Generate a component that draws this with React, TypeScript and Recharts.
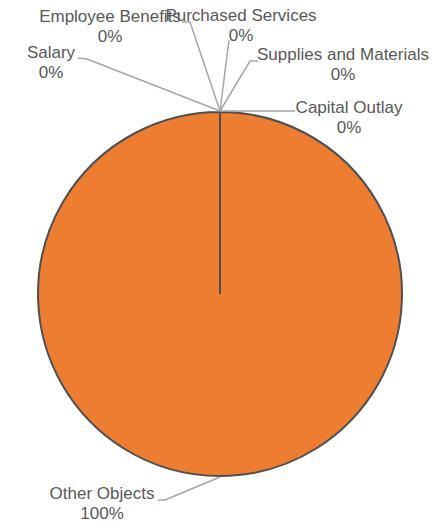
import { Cell, Pie, PieChart } from "recharts";

const categories = [
  "Salary",
  "Employee Benefits",
  "Purchased Services",
  "Supplies and Materials",
  "Capital Outlay",
  "Other Objects",
];
const amounts = [0, 0, 0, 0, 0, 100];

const data = categories.map((name, i) => ({ name, value: amounts[i] }));
const total = amounts.reduce((s, v) => s + v, 0);

// label text centre, leader start and elbow, all relative to the pie centre
const LABEL_LAYOUT = [
  { tx: -169, ty: -242, sx: -142, sy: -236, ex: -133, ey: -235 },
  { tx: -110, ty: -278, sx: -38, sy: -272, ex: -30, ey: -272 },
  { tx: 21, ty: -279, sx: 9, sy: -254, ex: 9, ey: -254 },
  { tx: 123, ty: -240, sx: 38, sy: -233, ex: 30, ey: -233 },
  { tx: 129, ty: -187.5, sx: 75, sy: -183, ex: 70, ey: -183 },
  { tx: -118, ty: 199, sx: -62, sy: 206, ex: -55, ey: 206 },
];

const RAD = Math.PI / 180;

function SliceLabel(props: any) {
  const { cx, cy, midAngle, outerRadius, index, name, value } = props;
  const l = LABEL_LAYOUT[index];
  if (!l) return null;
  const px = cx + (outerRadius + 1) * Math.cos(-midAngle * RAD);
  const py = cy + (outerRadius + 1) * Math.sin(-midAngle * RAD);
  const pct = total ? Math.round((value / total) * 100) : 0;
  return (
    <g>
      <polyline
        points={`${cx + l.sx},${cy + l.sy} ${cx + l.ex},${cy + l.ey} ${px},${py}`}
        fill="none"
        stroke="#A6A6A6"
        strokeWidth={1.5}
      />
      <text
        x={cx + l.tx}
        y={cy + l.ty + 6}
        textAnchor="middle"
        fill="#595959"
        fontSize={17}
        fontFamily="'Liberation Sans', Arial, sans-serif"
      >
        <tspan x={cx + l.tx}>{name}</tspan>
        <tspan x={cx + l.tx} dy={20}>
          {pct}%
        </tspan>
      </text>
    </g>
  );
}

export default function App() {
  return (
    <div style={{ position: "absolute", left: 0, top: 0, width: 435, height: 524, background: "#fff" }}>
      <PieChart width={435} height={524} margin={{ top: 0, right: 0, bottom: 0, left: 0 }}>
        <Pie
          data={data}
          dataKey="value"
          nameKey="name"
          cx={220}
          cy={294}
          outerRadius={182}
          startAngle={90}
          endAngle={-270}
          stroke="#505050"
          strokeWidth={2}
          labelLine={false}
          label={SliceLabel}
          isAnimationActive={false}
        >
          {data.map((d) => (
            <Cell key={d.name} fill="#ED7D31" />
          ))}
        </Pie>
      </PieChart>
    </div>
  );
}
